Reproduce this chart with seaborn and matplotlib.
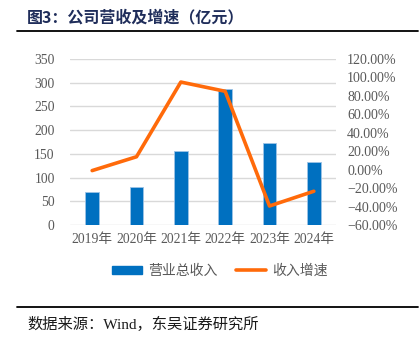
import numpy as np
import pandas as pd
import matplotlib
matplotlib.use("Agg")
import matplotlib.pyplot as plt
from matplotlib.patches import Patch
from matplotlib.lines import Line2D
from matplotlib.ticker import FuncFormatter
import seaborn as sns

# Revenue (亿元) and year-over-year growth
years = ["2019年", "2020年", "2021年", "2022年", "2023年", "2024年"]
revenue = [69, 80, 155, 287.5, 172, 132]
growth = [-0.01, 0.14, 0.95, 0.85, -0.394, -0.234]
left_ticks = [0, 50, 100, 150, 200, 250, 300, 350]
right_ticks = [-0.6, -0.4, -0.2, 0.0, 0.2, 0.4, 0.6, 0.8, 1.0, 1.2]

sns.set_theme(style="white")
plt.rcParams["font.family"] = ["Liberation Serif", "Noto Sans CJK SC", "DejaVu Sans"]

BAR = "#0070C0"
LINE = "#FF6A0A"
GRID = "#D9D9D9"
TICK = "#595959"

df = pd.DataFrame({"year": years, "revenue": revenue, "growth": growth})

fig = plt.figure(figsize=(4.2, 3.44), dpi=100)
ax = fig.add_axes([70 / 420, 1 - 225 / 344, 266 / 420, 166 / 344])

sns.barplot(data=df, x="year", y="revenue", color=BAR, width=0.31,
            edgecolor="#9DC3E6", linewidth=0.6, saturation=1, ax=ax)
ax.set_ylim(0, 350)
ax.set_xlim(-0.5, len(years) - 0.5)
ax.set_yticks(left_ticks)
ax.yaxis.grid(True, color=GRID, linewidth=1.0)
ax.set_axisbelow(True)
ax.set_xlabel("")
ax.set_ylabel("")
for s in ax.spines.values():
    s.set_visible(False)
ax.tick_params(axis="both", length=0, labelsize=9.8, labelcolor=TICK)
ax.tick_params(axis="y", pad=11)
ax.tick_params(axis="x", pad=6)

ax2 = ax.twinx()
sns.lineplot(x=np.arange(len(years)), y=df["growth"].values, color=LINE,
             linewidth=2.6, ax=ax2, legend=False)
ax2.set_ylim(-0.6, 1.2)
ax2.set_yticks(right_ticks)
ax2.yaxis.set_major_formatter(FuncFormatter(lambda v, p: f"{v * 100:.2f}%".replace("-", "\u2212")))
for s in ax2.spines.values():
    s.set_visible(False)
ax2.tick_params(axis="y", length=0, labelsize=10, labelcolor=TICK, pad=8)
ax2.grid(False)

handles = [Patch(facecolor=BAR, edgecolor=BAR),
           Line2D([0], [0], color=LINE, linewidth=2.6)]
fig.legend(handles, ["营业总收入", "收入增速"], loc="center left",
           bbox_to_anchor=(106 / 420, 1 - 271 / 344), ncol=2, frameon=False,
           fontsize=10, handlelength=2.2, handleheight=0.45,
           columnspacing=1.3, handletextpad=0.43, labelcolor=TICK,
           borderaxespad=0)

fig.text(27 / 420, 1 - 17 / 344, "图3：公司营收及增速（亿元）", fontsize=11.5,
         fontweight="bold", color="#1F2D5A", va="center", ha="left",
         family=["Noto Sans CJK SC", "DejaVu Sans"])
fig.add_artist(Line2D([17 / 420, 418 / 420], [1 - 30.5 / 344] * 2,
                      color="black", linewidth=1.3))
fig.add_artist(Line2D([17 / 420, 418 / 420], [1 - 307 / 344] * 2,
                      color="black", linewidth=1.3))
fig.text(27 / 420, 1 - 324 / 344, "数据来源：Wind，东吴证券研究所", fontsize=11,
         color="#1A1A1A", va="center", ha="left")

fig.savefig("out.png", dpi=100)
